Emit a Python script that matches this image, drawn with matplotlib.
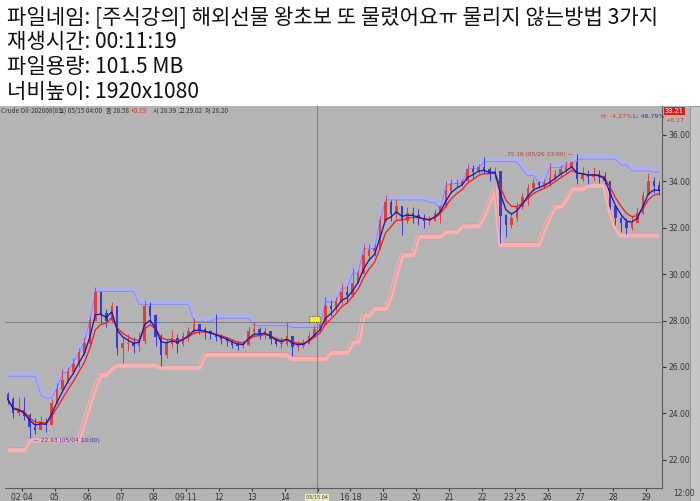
import numpy as np
import pandas as pd
import matplotlib
matplotlib.use('Agg')
import matplotlib.pyplot as plt
from matplotlib.patches import Rectangle

KR = ['Noto Sans CJK KR', 'DejaVu Sans']

# header lines above the chart
info_lines = ['파일네임: [주식강의] 해외선물 왕초보 또 물렸어요ㅠ 물리지 않는방법 3가지',
              '재생시간: 00:11:19',
              '파일용량: 101.5 MB',
              '너비높이: 1920x1080']

# bars (6 per trading day)
close = [24.6, 24.0, 24.1, 23.9, 23.4, 23.3, 23.6, 23.5, 24.4, 25.0,
         25.4, 25.8, 26.1, 26.6, 27.0, 28.0, 29.2, 28.3, 28.0, 28.6,
         26.8, 27.0, 27.0, 26.9, 27.1, 28.6, 28.2, 27.3, 26.5, 27.0,
         27.2, 27.0, 27.3, 27.5, 27.8, 27.6, 27.5, 27.4, 27.3, 27.2,
         27.1, 26.95, 26.9, 26.95, 27.5, 27.6, 27.4, 27.5, 27.2, 27.0,
         27.0, 27.3, 26.85, 26.9, 27.0, 27.3, 27.6, 27.8, 28.6, 28.5,
         28.8, 29.2, 29.1, 29.6, 30.0, 30.8, 31.0, 31.1, 32.3, 33.1,
         32.6, 32.9, 32.3, 32.6, 32.5, 32.4, 32.3, 32.3, 32.6, 32.9,
         33.6, 33.9, 33.9, 34.0, 34.5, 34.4, 34.6, 34.5, 34.3, 34.4,
         32.5, 32.1, 32.4, 32.9, 33.3, 33.7, 33.9, 33.85, 33.9, 34.1,
         34.3, 34.5, 34.6, 34.8, 34.1, 34.3, 34.2, 34.3, 34.2, 34.0,
         32.9, 32.4, 32.2, 32.0, 32.2, 32.6, 33.4, 34.0, 33.8, 33.6]
high = [24.9, 24.7, 24.7, 24.7, 24.0, 23.8, 23.9, 23.8, 24.6, 25.3,
        25.9, 26.0, 26.4, 26.8, 27.3, 28.2, 29.45, 28.9, 28.5, 28.8,
        28.5, 27.3, 27.4, 27.3, 27.5, 28.9, 28.8, 28.3, 27.4, 27.2,
        27.6, 27.4, 27.5, 27.7, 28.1, 27.8, 27.7, 27.6, 28.3, 27.4,
        27.3, 27.2, 27.1, 27.1, 27.7, 27.95, 27.7, 27.7, 27.5, 27.3,
        27.3, 27.95, 27.3, 27.1, 27.2, 27.5, 27.8, 27.9, 29.0, 28.9,
        29.0, 29.6, 29.5, 30.25, 30.2, 31.3, 31.3, 31.3, 32.5, 33.4,
        33.2, 33.25, 32.9, 32.9, 32.9, 32.8, 32.6, 32.5, 32.8, 33.0,
        34.0, 34.1, 34.1, 34.1, 34.75, 34.7, 34.75, 35.05, 34.6, 34.6,
        34.4, 32.6, 32.7, 33.1, 33.5, 33.9, 34.1, 34.0, 34.1, 34.8,
        34.5, 34.7, 34.9, 34.9, 35.16, 34.6, 34.5, 34.6, 34.5, 34.4,
        34.0, 32.8, 32.5, 32.4, 32.5, 32.9, 33.6, 34.35, 34.2, 34.0]
low = [24.4, 23.8, 23.9, 23.7, 22.93, 23.1, 23.3, 23.2, 23.5, 24.5,
       25.0, 25.3, 25.7, 26.0, 26.5, 27.0, 28.1, 27.9, 27.7, 27.9,
       26.5, 26.15, 26.7, 26.6, 26.7, 27.0, 27.9, 26.9, 26.05, 26.4,
       26.8, 26.6, 26.9, 27.1, 27.4, 27.4, 27.2, 27.2, 27.1, 27.0,
       26.9, 26.8, 26.75, 26.8, 26.9, 27.3, 27.2, 27.2, 27.0, 26.9,
       26.8, 26.9, 26.45, 26.7, 26.8, 27.0, 27.3, 27.6, 28.2, 28.2,
       28.4, 28.7, 28.75, 29.0, 29.6, 30.1, 30.6, 30.8, 31.1, 32.3,
       32.3, 32.4, 31.7, 32.2, 32.2, 32.1, 32.0, 32.1, 32.3, 32.2,
       32.9, 33.5, 33.7, 33.8, 34.0, 34.1, 34.3, 34.3, 34.0, 34.1,
       31.35, 31.6, 32.0, 32.3, 32.8, 33.0, 33.6, 33.7, 33.7, 33.8,
       34.0, 34.2, 34.3, 34.5, 33.9, 34.0, 33.9, 34.0, 33.95, 33.9,
       32.8, 32.1, 31.8, 31.75, 31.9, 32.3, 32.6, 33.4, 33.5, 33.4]
first_open = 24.8

# channel bands (upper = highest high, lower = lowest low)
upper = [25.8, 25.8, 25.8, 25.8, 25.8, 25.8, 25.0, 24.85, 24.85, 25.3,
         25.9, 26.0, 26.4, 26.8, 27.3, 28.2, 29.45, 29.45, 29.45, 29.45,
         29.45, 29.45, 29.45, 29.45, 28.9, 28.9, 28.9, 28.9, 28.9, 28.9,
         28.9, 28.9, 28.9, 28.9, 28.15, 28.15, 28.15, 28.15, 28.3, 28.3,
         28.3, 28.3, 28.3, 28.3, 28.3, 27.98, 27.98, 27.98, 27.98, 27.98,
         27.98, 27.98, 27.9, 27.9, 27.9, 27.9, 27.9, 27.9, 29.0, 29.0,
         29.0, 29.6, 29.6, 30.25, 30.25, 31.3, 31.3, 31.3, 32.5, 33.4,
         33.4, 33.4, 33.4, 33.4, 33.4, 33.4, 33.4, 33.3, 33.3, 33.0,
         34.0, 34.1, 34.1, 34.1, 34.75, 34.75, 34.75, 35.05, 35.05, 35.05,
         35.05, 35.05, 35.05, 35.05, 34.7, 34.45, 34.45, 34.15, 34.15, 34.8,
         34.8, 34.8, 34.9, 34.9, 35.16, 35.16, 35.16, 35.16, 35.16, 35.16,
         35.16, 35.16, 34.9, 34.9, 34.65, 34.65, 34.65, 34.65, 34.6, 34.6]
lower = [22.5, 22.5, 22.5, 22.5, 22.93, 22.93, 22.93, 22.93, 22.93, 22.93,
         22.93, 22.93, 22.93, 22.93, 23.7, 24.45, 25.2, 25.75, 25.75, 26.0,
         26.15, 26.15, 26.15, 26.15, 26.15, 26.15, 26.15, 26.15, 26.05, 26.05,
         26.05, 26.05, 26.05, 26.05, 26.05, 26.05, 26.6, 26.6, 26.6, 26.6,
         26.6, 26.6, 26.6, 26.6, 26.6, 26.6, 26.6, 26.6, 26.6, 26.6,
         26.6, 26.6, 26.43, 26.43, 26.43, 26.43, 26.43, 26.43, 26.43, 26.7,
         26.7, 26.7, 26.7, 27.15, 27.15, 28.3, 28.3, 28.6, 28.6, 28.6,
         29.15, 30.1, 30.9, 30.9, 30.9, 31.7, 31.7, 31.7, 31.7, 31.7,
         31.9, 31.9, 31.9, 32.15, 32.15, 32.15, 32.15, 32.6, 33.2, 33.75,
         31.35, 31.35, 31.35, 31.35, 31.35, 31.35, 31.35, 31.35, 32.0, 32.55,
         33.0, 33.0, 33.3, 33.75, 33.75, 33.75, 33.9, 33.9, 33.9, 33.9,
         32.8, 32.1, 31.75, 31.75, 31.75, 31.75, 31.75, 31.75, 31.75, 31.75]

day_labels = ['02 04', '05', '06', '07', '08', '09 11', '12', '13', '14', '',
              '16 18', '19', '20', '21', '22', '23 25', '26', '27', '28', '29']
bars_per_day = 6
price_ticks = [22, 24, 26, 28, 30, 32, 34, 36]

cursor_bar = 56.5
cursor_price = 27.94
hi_mark = ('35.16 (05/26 23:00)', 104, 35.16)
lo_mark = ('22.93 (05/04 10:00)', 4, 22.93)

close = np.array(close)
high = np.array(high)
low = np.array(low)
upper = np.array(upper)
lower = np.array(lower)
n = len(close)
idx = np.arange(n)
opens = np.r_[first_open, close[:-1]]

ma_fast = pd.Series(close).ewm(span=3).mean()
ma_slow = pd.Series(close).ewm(span=5).mean()

W, H = 700, 501
fig = plt.figure(figsize=(7, 5.01), dpi=100)
fig.patch.set_facecolor('white')

chart_top = 106
fig.patches.append(Rectangle((0, 0), 1, (H - chart_top) / H, transform=fig.transFigure,
                             facecolor='#b4b4b4', edgecolor='none', zorder=-10))
# toolbar strip on the far right
fig.patches.append(Rectangle((690 / W, 0), 10 / W, (H - chart_top) / H, transform=fig.transFigure,
                             facecolor='#c6c6c6', edgecolor='#8c8c8c', lw=0.6, zorder=-9))

for k, line in enumerate(info_lines):
    fig.text(7 / W, 1 - (18 + 24.5 * k) / H, line, fontsize=15.2, va='center',
             family=KR, color='#111111')

ax = fig.add_axes([5 / W, 13 / H, 657 / W, (488 - chart_top) / H])
ax.set_facecolor('#b4b4b4')
ax.set_xlim(-0.5, n - 0.5)
ax.set_ylim(20.78, 37.25)

# bands: thick pale strip with a thin darker edge
ax.plot(idx, upper - 0.1, color='#aeb0ee', lw=3.6, solid_capstyle='butt', zorder=1)
ax.plot(idx, upper - 0.2, color='#8486dc', lw=0.6, zorder=1)
ax.plot(idx, lower - 0.08, color='#f2b4b4', lw=3.4, solid_capstyle='butt', zorder=1)
ax.plot(idx, lower + 0.02, color='#e48e8e', lw=0.6, zorder=1)

# candles
up = close >= opens
colors = np.where(up, '#e0403c', '#3a3ad0')
ax.vlines(idx, low, high, colors=colors, lw=0.7, zorder=2)
ax.bar(idx, np.abs(close - opens) + 0.03, bottom=np.minimum(opens, close),
       width=0.45, color=colors, zorder=2)

# averages
ax.plot(idx, ma_slow, color='#f01c1c', lw=0.9, zorder=3)
ax.plot(idx, ma_fast, color='#1414b4', lw=0.9, zorder=3)

# crosshair
ax.axvline(cursor_bar, ymin=-0.035, ymax=1, color='#7c7c7c', lw=0.7, clip_on=False, zorder=1)
ax.axhline(cursor_price, color='#7c7c7c', lw=0.7, zorder=1)
ax.add_patch(Rectangle((cursor_bar - 1.4, cursor_price + 0.0), 1.9, 0.25, facecolor='#f4f020',
                       edgecolor='#222222', lw=0.6, ls=':', zorder=4))

# extreme markers
ax.text(hi_mark[1] - 0.6, hi_mark[2], hi_mark[0] + ' —', fontsize=4.2, color='#b83c3c',
        ha='right', va='center', zorder=5)
ax.text(lo_mark[1] + 0.6, lo_mark[2] - 0.12, '— ' + lo_mark[0], fontsize=4.2, color='#2c2ca8',
        ha='left', va='center', zorder=5)

for side in ['left', 'top']:
    ax.spines[side].set_visible(False)
for side in ['right', 'bottom']:
    ax.spines[side].set_color('#5c5c5c')
    ax.spines[side].set_linewidth(0.8)

ax.yaxis.tick_right()
ax.set_yticks(price_ticks)
ax.set_yticklabels([f'{v:.2f}' for v in price_ticks])
ax.tick_params(axis='y', labelsize=5.5, length=3, pad=1.5, colors='#333333')

ax.set_xticks(np.arange(len(day_labels)) * bars_per_day + 2.6)
ax.set_xticklabels(day_labels)
ax.tick_params(axis='x', labelsize=5.5, length=2, pad=1.5, colors='#333333')

# cursor tag on the time axis
ax.text(cursor_bar, -0.018, '05/15 04', transform=ax.get_xaxis_transform(), fontsize=3.5,
        ha='center', va='top', color='#333333', clip_on=False,
        bbox=dict(boxstyle='square,pad=0.2', facecolor='#ecebc4', edgecolor='none'))
fig.text(684 / W, 1 - 493 / H, '12:00', fontsize=5.5, color='#333333', ha='center', va='center')

# chart header line
hy = 1 - 111 / H
fig.text(1 / W, hy, 'Crude Oil-202008(8월) 05/15 04:00', fontsize=4.6, family=KR,
         color='#333333', va='center')
fig.text(106 / W, hy, '종 28.58', fontsize=4.6, family=KR, color='#333333', va='center')
fig.text(131 / W, hy, '+0.19', fontsize=4.6, family=KR, color='#d83030', va='center')
fig.text(153 / W, hy, '시 28.39  고 29.02  저 28.20', fontsize=4.6, family=KR,
         color='#333333', va='center')
fig.text(601 / W, 1 - 116 / H, 'H: -4.27%', fontsize=4.5, color='#c83434', va='center')
fig.text(633 / W, 1 - 116 / H, 'L: 46.79%', fontsize=4.5, color='#2c2cb0', va='center')
fig.text(665 / W, 1 - 111 / H, '33.21', fontsize=4.8, color='white', va='center',
         bbox=dict(boxstyle='square,pad=0.15', facecolor='#d82020', edgecolor='none'))
fig.text(665 / W, 1 - 120 / H, '+0.17', fontsize=4.5, color='#c83434', va='center')

fig.savefig('out.png', dpi=100)
